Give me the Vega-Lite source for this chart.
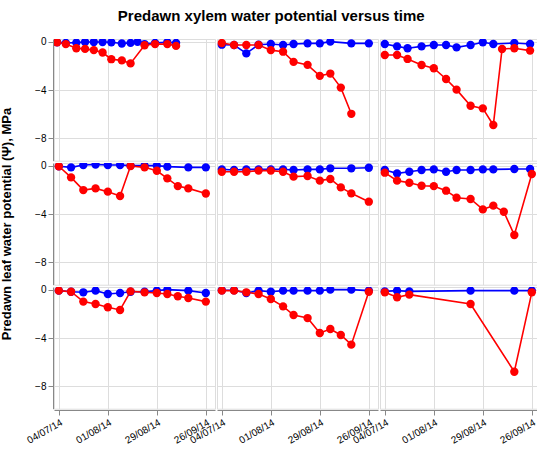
{
  "$schema": "https://vega.github.io/schema/vega-lite/v6.json",
  "padding": {"left": 0, "top": 8, "right": 0, "bottom": 2},
  "title": {"text": "Predawn xylem water potential versus time", "font": "Liberation Sans", "fontSize": 15, "fontWeight": "bold", "anchor": "middle", "offset": 13},
  "data": {
    "values": [
      {"sp": "AG", "s": "C", "d": "2014-07-03", "v": -0.05},
      {"sp": "AG", "s": "C", "d": "2014-07-08", "v": -0.1},
      {"sp": "AG", "s": "C", "d": "2014-07-14", "v": -0.08},
      {"sp": "AG", "s": "C", "d": "2014-07-19", "v": -0.03},
      {"sp": "AG", "s": "C", "d": "2014-07-24", "v": -0.03},
      {"sp": "AG", "s": "C", "d": "2014-07-29", "v": -0.03},
      {"sp": "AG", "s": "C", "d": "2014-08-03", "v": -0.05},
      {"sp": "AG", "s": "C", "d": "2014-08-09", "v": -0.15},
      {"sp": "AG", "s": "C", "d": "2014-08-14", "v": -0.1},
      {"sp": "AG", "s": "C", "d": "2014-08-18", "v": -0.02},
      {"sp": "AG", "s": "C", "d": "2014-08-22", "v": -0.2},
      {"sp": "AG", "s": "C", "d": "2014-08-28", "v": -0.1},
      {"sp": "AG", "s": "C", "d": "2014-09-04", "v": -0.05},
      {"sp": "AG", "s": "C", "d": "2014-09-09", "v": -0.1},
      {"sp": "AG", "s": "D", "d": "2014-07-03", "v": -0.05},
      {"sp": "AG", "s": "D", "d": "2014-07-08", "v": -0.2},
      {"sp": "AG", "s": "D", "d": "2014-07-14", "v": -0.55},
      {"sp": "AG", "s": "D", "d": "2014-07-19", "v": -0.6},
      {"sp": "AG", "s": "D", "d": "2014-07-24", "v": -0.7},
      {"sp": "AG", "s": "D", "d": "2014-07-29", "v": -0.9},
      {"sp": "AG", "s": "D", "d": "2014-08-03", "v": -1.45},
      {"sp": "AG", "s": "D", "d": "2014-08-09", "v": -1.55},
      {"sp": "AG", "s": "D", "d": "2014-08-14", "v": -1.8},
      {"sp": "AG", "s": "D", "d": "2014-08-22", "v": -0.3},
      {"sp": "AG", "s": "D", "d": "2014-08-28", "v": -0.2},
      {"sp": "AG", "s": "D", "d": "2014-09-04", "v": -0.2},
      {"sp": "AG", "s": "D", "d": "2014-09-09", "v": -0.35},

      {"sp": "FS", "s": "C", "d": "2014-07-04", "v": -0.25},
      {"sp": "FS", "s": "C", "d": "2014-07-11", "v": -0.28},
      {"sp": "FS", "s": "C", "d": "2014-07-18", "v": -0.97},
      {"sp": "FS", "s": "C", "d": "2014-07-25", "v": -0.25},
      {"sp": "FS", "s": "C", "d": "2014-08-01", "v": -0.19},
      {"sp": "FS", "s": "C", "d": "2014-08-08", "v": -0.28},
      {"sp": "FS", "s": "C", "d": "2014-08-14", "v": -0.19},
      {"sp": "FS", "s": "C", "d": "2014-08-22", "v": -0.14},
      {"sp": "FS", "s": "C", "d": "2014-08-29", "v": -0.14},
      {"sp": "FS", "s": "C", "d": "2014-09-04", "v": 0.0},
      {"sp": "FS", "s": "C", "d": "2014-09-16", "v": -0.14},
      {"sp": "FS", "s": "C", "d": "2014-09-26", "v": -0.14},
      {"sp": "FS", "s": "D", "d": "2014-07-04", "v": -0.11},
      {"sp": "FS", "s": "D", "d": "2014-07-11", "v": -0.28},
      {"sp": "FS", "s": "D", "d": "2014-07-18", "v": -0.28},
      {"sp": "FS", "s": "D", "d": "2014-07-25", "v": -0.28},
      {"sp": "FS", "s": "D", "d": "2014-08-01", "v": -0.7},
      {"sp": "FS", "s": "D", "d": "2014-08-08", "v": -0.83},
      {"sp": "FS", "s": "D", "d": "2014-08-14", "v": -1.67},
      {"sp": "FS", "s": "D", "d": "2014-08-22", "v": -1.92},
      {"sp": "FS", "s": "D", "d": "2014-08-29", "v": -2.83},
      {"sp": "FS", "s": "D", "d": "2014-09-04", "v": -2.64},
      {"sp": "FS", "s": "D", "d": "2014-09-10", "v": -3.8},
      {"sp": "FS", "s": "D", "d": "2014-09-16", "v": -5.97},

      {"sp": "CA", "s": "C", "d": "2014-07-04", "v": -0.19},
      {"sp": "CA", "s": "C", "d": "2014-07-11", "v": -0.39},
      {"sp": "CA", "s": "C", "d": "2014-07-17", "v": -0.55},
      {"sp": "CA", "s": "C", "d": "2014-07-25", "v": -0.39},
      {"sp": "CA", "s": "C", "d": "2014-08-01", "v": -0.28},
      {"sp": "CA", "s": "C", "d": "2014-08-08", "v": -0.28},
      {"sp": "CA", "s": "C", "d": "2014-08-14", "v": -0.47},
      {"sp": "CA", "s": "C", "d": "2014-08-22", "v": -0.28},
      {"sp": "CA", "s": "C", "d": "2014-08-29", "v": -0.05},
      {"sp": "CA", "s": "C", "d": "2014-09-04", "v": -0.19},
      {"sp": "CA", "s": "C", "d": "2014-09-16", "v": -0.11},
      {"sp": "CA", "s": "C", "d": "2014-09-25", "v": -0.19},
      {"sp": "CA", "s": "D", "d": "2014-07-04", "v": -1.1},
      {"sp": "CA", "s": "D", "d": "2014-07-11", "v": -1.1},
      {"sp": "CA", "s": "D", "d": "2014-07-17", "v": -1.43},
      {"sp": "CA", "s": "D", "d": "2014-07-25", "v": -1.93},
      {"sp": "CA", "s": "D", "d": "2014-08-01", "v": -2.2},
      {"sp": "CA", "s": "D", "d": "2014-08-08", "v": -3.09},
      {"sp": "CA", "s": "D", "d": "2014-08-14", "v": -3.97},
      {"sp": "CA", "s": "D", "d": "2014-08-22", "v": -5.3},
      {"sp": "CA", "s": "D", "d": "2014-08-29", "v": -5.52},
      {"sp": "CA", "s": "D", "d": "2014-09-04", "v": -6.9},
      {"sp": "CA", "s": "D", "d": "2014-09-09", "v": -0.61},
      {"sp": "CA", "s": "D", "d": "2014-09-16", "v": -0.55},
      {"sp": "CA", "s": "D", "d": "2014-09-25", "v": -0.74},

      {"sp": "PT", "s": "C", "d": "2014-07-04", "v": -0.05},
      {"sp": "PT", "s": "C", "d": "2014-07-11", "v": -0.14},
      {"sp": "PT", "s": "C", "d": "2014-07-18", "v": 0.05},
      {"sp": "PT", "s": "C", "d": "2014-07-25", "v": 0.1},
      {"sp": "PT", "s": "C", "d": "2014-08-01", "v": 0.05},
      {"sp": "PT", "s": "C", "d": "2014-08-08", "v": 0.05},
      {"sp": "PT", "s": "C", "d": "2014-08-14", "v": 0.0},
      {"sp": "PT", "s": "C", "d": "2014-08-22", "v": 0.0},
      {"sp": "PT", "s": "C", "d": "2014-08-29", "v": 0.0},
      {"sp": "PT", "s": "C", "d": "2014-09-04", "v": -0.08},
      {"sp": "PT", "s": "C", "d": "2014-09-16", "v": -0.14},
      {"sp": "PT", "s": "C", "d": "2014-09-26", "v": -0.14},
      {"sp": "PT", "s": "D", "d": "2014-07-04", "v": -0.05},
      {"sp": "PT", "s": "D", "d": "2014-07-11", "v": -0.97},
      {"sp": "PT", "s": "D", "d": "2014-07-18", "v": -2.02},
      {"sp": "PT", "s": "D", "d": "2014-07-25", "v": -1.88},
      {"sp": "PT", "s": "D", "d": "2014-08-01", "v": -2.15},
      {"sp": "PT", "s": "D", "d": "2014-08-08", "v": -2.51},
      {"sp": "PT", "s": "D", "d": "2014-08-14", "v": -0.03},
      {"sp": "PT", "s": "D", "d": "2014-08-22", "v": -0.14},
      {"sp": "PT", "s": "D", "d": "2014-08-29", "v": -0.42},
      {"sp": "PT", "s": "D", "d": "2014-09-04", "v": -1.05},
      {"sp": "PT", "s": "D", "d": "2014-09-10", "v": -1.69},
      {"sp": "PT", "s": "D", "d": "2014-09-16", "v": -1.88},
      {"sp": "PT", "s": "D", "d": "2014-09-26", "v": -2.3},

      {"sp": "PM", "s": "C", "d": "2014-07-04", "v": -0.31},
      {"sp": "PM", "s": "C", "d": "2014-07-11", "v": -0.36},
      {"sp": "PM", "s": "C", "d": "2014-07-18", "v": -0.31},
      {"sp": "PM", "s": "C", "d": "2014-07-25", "v": -0.31},
      {"sp": "PM", "s": "C", "d": "2014-08-01", "v": -0.31},
      {"sp": "PM", "s": "C", "d": "2014-08-08", "v": -0.31},
      {"sp": "PM", "s": "C", "d": "2014-08-14", "v": -0.36},
      {"sp": "PM", "s": "C", "d": "2014-08-22", "v": -0.31},
      {"sp": "PM", "s": "C", "d": "2014-08-29", "v": -0.31},
      {"sp": "PM", "s": "C", "d": "2014-09-04", "v": -0.22},
      {"sp": "PM", "s": "C", "d": "2014-09-16", "v": -0.22},
      {"sp": "PM", "s": "C", "d": "2014-09-26", "v": -0.17},
      {"sp": "PM", "s": "D", "d": "2014-07-04", "v": -0.5},
      {"sp": "PM", "s": "D", "d": "2014-07-11", "v": -0.5},
      {"sp": "PM", "s": "D", "d": "2014-07-18", "v": -0.5},
      {"sp": "PM", "s": "D", "d": "2014-07-25", "v": -0.41},
      {"sp": "PM", "s": "D", "d": "2014-08-01", "v": -0.41},
      {"sp": "PM", "s": "D", "d": "2014-08-08", "v": -0.5},
      {"sp": "PM", "s": "D", "d": "2014-08-14", "v": -0.91},
      {"sp": "PM", "s": "D", "d": "2014-08-22", "v": -0.86},
      {"sp": "PM", "s": "D", "d": "2014-08-29", "v": -1.24},
      {"sp": "PM", "s": "D", "d": "2014-09-04", "v": -1.1},
      {"sp": "PM", "s": "D", "d": "2014-09-10", "v": -1.8},
      {"sp": "PM", "s": "D", "d": "2014-09-16", "v": -2.29},
      {"sp": "PM", "s": "D", "d": "2014-09-26", "v": -2.98},

      {"sp": "PH", "s": "C", "d": "2014-07-04", "v": -0.36},
      {"sp": "PH", "s": "C", "d": "2014-07-11", "v": -0.64},
      {"sp": "PH", "s": "C", "d": "2014-07-18", "v": -0.5},
      {"sp": "PH", "s": "C", "d": "2014-07-25", "v": -0.36},
      {"sp": "PH", "s": "C", "d": "2014-08-01", "v": -0.31},
      {"sp": "PH", "s": "C", "d": "2014-08-08", "v": -0.5},
      {"sp": "PH", "s": "C", "d": "2014-08-14", "v": -0.36},
      {"sp": "PH", "s": "C", "d": "2014-08-22", "v": -0.36},
      {"sp": "PH", "s": "C", "d": "2014-08-29", "v": -0.31},
      {"sp": "PH", "s": "C", "d": "2014-09-04", "v": -0.31},
      {"sp": "PH", "s": "C", "d": "2014-09-16", "v": -0.28},
      {"sp": "PH", "s": "C", "d": "2014-09-25", "v": -0.28},
      {"sp": "PH", "s": "D", "d": "2014-07-04", "v": -0.58},
      {"sp": "PH", "s": "D", "d": "2014-07-11", "v": -1.24},
      {"sp": "PH", "s": "D", "d": "2014-07-18", "v": -1.41},
      {"sp": "PH", "s": "D", "d": "2014-07-25", "v": -1.66},
      {"sp": "PH", "s": "D", "d": "2014-08-01", "v": -1.69},
      {"sp": "PH", "s": "D", "d": "2014-08-08", "v": -2.07},
      {"sp": "PH", "s": "D", "d": "2014-08-14", "v": -2.65},
      {"sp": "PH", "s": "D", "d": "2014-08-22", "v": -2.76},
      {"sp": "PH", "s": "D", "d": "2014-08-29", "v": -3.62},
      {"sp": "PH", "s": "D", "d": "2014-09-04", "v": -3.31},
      {"sp": "PH", "s": "D", "d": "2014-09-10", "v": -3.81},
      {"sp": "PH", "s": "D", "d": "2014-09-16", "v": -5.74},
      {"sp": "PH", "s": "D", "d": "2014-09-26", "v": -0.69},

      {"sp": "SA", "s": "C", "d": "2014-07-04", "v": -0.08},
      {"sp": "SA", "s": "C", "d": "2014-07-11", "v": -0.17},
      {"sp": "SA", "s": "C", "d": "2014-07-18", "v": -0.22},
      {"sp": "SA", "s": "C", "d": "2014-07-25", "v": -0.08},
      {"sp": "SA", "s": "C", "d": "2014-08-01", "v": -0.36},
      {"sp": "SA", "s": "C", "d": "2014-08-08", "v": -0.28},
      {"sp": "SA", "s": "C", "d": "2014-08-14", "v": -0.17},
      {"sp": "SA", "s": "C", "d": "2014-08-22", "v": -0.17},
      {"sp": "SA", "s": "C", "d": "2014-08-29", "v": -0.08},
      {"sp": "SA", "s": "C", "d": "2014-09-04", "v": 0.0},
      {"sp": "SA", "s": "C", "d": "2014-09-16", "v": -0.08},
      {"sp": "SA", "s": "C", "d": "2014-09-26", "v": -0.28},
      {"sp": "SA", "s": "D", "d": "2014-07-04", "v": -0.08},
      {"sp": "SA", "s": "D", "d": "2014-07-11", "v": -0.17},
      {"sp": "SA", "s": "D", "d": "2014-07-18", "v": -0.99},
      {"sp": "SA", "s": "D", "d": "2014-07-25", "v": -1.19},
      {"sp": "SA", "s": "D", "d": "2014-08-01", "v": -1.46},
      {"sp": "SA", "s": "D", "d": "2014-08-08", "v": -1.68},
      {"sp": "SA", "s": "D", "d": "2014-08-14", "v": -0.14},
      {"sp": "SA", "s": "D", "d": "2014-08-22", "v": -0.22},
      {"sp": "SA", "s": "D", "d": "2014-08-29", "v": -0.28},
      {"sp": "SA", "s": "D", "d": "2014-09-04", "v": -0.36},
      {"sp": "SA", "s": "D", "d": "2014-09-10", "v": -0.55},
      {"sp": "SA", "s": "D", "d": "2014-09-16", "v": -0.69},
      {"sp": "SA", "s": "D", "d": "2014-09-26", "v": -0.99},

      {"sp": "QP", "s": "C", "d": "2014-07-04", "v": -0.05},
      {"sp": "QP", "s": "C", "d": "2014-07-11", "v": -0.05},
      {"sp": "QP", "s": "C", "d": "2014-07-18", "v": -0.28},
      {"sp": "QP", "s": "C", "d": "2014-07-25", "v": -0.08},
      {"sp": "QP", "s": "C", "d": "2014-08-01", "v": -0.17},
      {"sp": "QP", "s": "C", "d": "2014-08-08", "v": -0.08},
      {"sp": "QP", "s": "C", "d": "2014-08-14", "v": -0.08},
      {"sp": "QP", "s": "C", "d": "2014-08-22", "v": -0.08},
      {"sp": "QP", "s": "C", "d": "2014-08-29", "v": -0.08},
      {"sp": "QP", "s": "C", "d": "2014-09-04", "v": 0.0},
      {"sp": "QP", "s": "C", "d": "2014-09-16", "v": 0.0},
      {"sp": "QP", "s": "C", "d": "2014-09-26", "v": -0.08},
      {"sp": "QP", "s": "D", "d": "2014-07-04", "v": -0.08},
      {"sp": "QP", "s": "D", "d": "2014-07-11", "v": -0.08},
      {"sp": "QP", "s": "D", "d": "2014-07-18", "v": -0.22},
      {"sp": "QP", "s": "D", "d": "2014-07-25", "v": -0.36},
      {"sp": "QP", "s": "D", "d": "2014-08-01", "v": -0.77},
      {"sp": "QP", "s": "D", "d": "2014-08-08", "v": -1.38},
      {"sp": "QP", "s": "D", "d": "2014-08-14", "v": -2.1},
      {"sp": "QP", "s": "D", "d": "2014-08-22", "v": -2.35},
      {"sp": "QP", "s": "D", "d": "2014-08-29", "v": -3.59},
      {"sp": "QP", "s": "D", "d": "2014-09-04", "v": -3.26},
      {"sp": "QP", "s": "D", "d": "2014-09-10", "v": -3.75},
      {"sp": "QP", "s": "D", "d": "2014-09-16", "v": -4.55},
      {"sp": "QP", "s": "D", "d": "2014-09-26", "v": -0.17},

      {"sp": "QI", "s": "C", "d": "2014-07-04", "v": -0.14},
      {"sp": "QI", "s": "C", "d": "2014-07-11", "v": -0.08},
      {"sp": "QI", "s": "C", "d": "2014-07-18", "v": -0.14},
      {"sp": "QI", "s": "C", "d": "2014-08-22", "v": -0.08},
      {"sp": "QI", "s": "C", "d": "2014-09-16", "v": -0.08},
      {"sp": "QI", "s": "C", "d": "2014-09-26", "v": -0.08},
      {"sp": "QI", "s": "D", "d": "2014-07-04", "v": -0.22},
      {"sp": "QI", "s": "D", "d": "2014-07-11", "v": -0.63},
      {"sp": "QI", "s": "D", "d": "2014-07-18", "v": -0.41},
      {"sp": "QI", "s": "D", "d": "2014-08-22", "v": -1.19},
      {"sp": "QI", "s": "D", "d": "2014-09-16", "v": -6.79},
      {"sp": "QI", "s": "D", "d": "2014-09-26", "v": -0.22}
    ]
  },
  "transform": [
    {"lookup": "sp", "from": {"data": {"values": [
      {"sp": "AG", "name": "Alnus glutinosa", "r": 1, "c": 1},
      {"sp": "FS", "name": "Fagus sylvatica", "r": 1, "c": 2},
      {"sp": "CA", "name": "Cedrus atlantica", "r": 1, "c": 3},
      {"sp": "PT", "name": "Populus tremula x alba", "r": 2, "c": 1},
      {"sp": "PM", "name": "Pseudotsuga menziesii", "r": 2, "c": 2},
      {"sp": "PH", "name": "Pinus halepensis", "r": 2, "c": 3},
      {"sp": "SA", "name": "Salix alba", "r": 3, "c": 1},
      {"sp": "QP", "name": "Quercus petraea", "r": 3, "c": 2},
      {"sp": "QI", "name": "Quercus ilex", "r": 3, "c": 3}
    ]}, "key": "sp", "fields": ["name", "r", "c"]}}
  ],
  "spacing": 0,
  "facet": {
    "row": {"field": "r", "type": "ordinal", "header": {"labels": false, "title": "Predawn leaf water potential (Ψ), MPa", "titleOrient": "left", "titleFontSize": 13}},
    "column": {"field": "c", "type": "ordinal", "header": {"labels": false, "title": "Elapsed time since drought inception", "titleOrient": "bottom", "titleFontSize": 13}}
  },
  "spec": {
    "width": 161,
    "height": 121.7,
    "layer": [
      {
        "transform": [{"filter": "datum.s"}],
        "mark": {"type": "line", "strokeWidth": 1.6, "clip": true},
        "encoding": {
          "x": {
            "field": "d", "type": "temporal", "title": null,
            "scale": {"type": "utc", "domain": [{"year": 2014, "month": 7, "date": 1, "hours": 6, "utc": true}, {"year": 2014, "month": 10, "date": 1, "hours": 6, "utc": true}]},
            "axis": {"values": [{"year": 2014, "month": 7, "date": 4, "utc": true}, {"year": 2014, "month": 8, "date": 1, "utc": true}, {"year": 2014, "month": 8, "date": 29, "utc": true}, {"year": 2014, "month": 9, "date": 26, "utc": true}], "labelExpr": "utcFormat(datum.value, '%d/%m/%y')", "labelAngle": -30}
          },
          "y": {"field": "v", "type": "quantitative", "title": null, "scale": {"domain": [-9.85, 0.22], "nice": false, "zero": false}, "axis": {"values": [0, -2, -4, -6, -8]}},
          "stroke": {"field": "s", "type": "nominal", "scale": {"domain": ["C", "D"], "range": ["#0000ff", "#ff0000"]}, "legend": null}
        }
      },
      {
        "transform": [{"filter": "datum.s"}],
        "mark": {"type": "point", "filled": true, "opacity": 1, "clip": true, "size": 70},
        "encoding": {
          "x": {"field": "d", "type": "temporal", "title": null},
          "y": {"field": "v", "type": "quantitative", "title": null},
          "color": {
            "field": "s", "type": "nominal", "scale": {"domain": ["C", "D"], "range": ["#0000ff", "#ff0000"]},
            "legend": {
              "orient": "none", "legendX": 175, "legendY": 330, "title": null,
              "labelExpr": "datum.value == 'C' ? 'Control plants' : 'Droughted plants'",
              "fillColor": "#ffffff", "strokeColor": "#000000", "padding": 5,
              "symbolType": "circle", "symbolSize": 70,
              "labelFont": "Liberation Sans", "labelFontWeight": "bold", "labelFontSize": 9,
              "rowPadding": 2,
              "encode": {"labels": {"update": {"fill": {"signal": "datum.value == 'C' ? '#0000ff' : '#ff0000'"}}}}
            }
          }
        }
      }
    ]
  }
}
